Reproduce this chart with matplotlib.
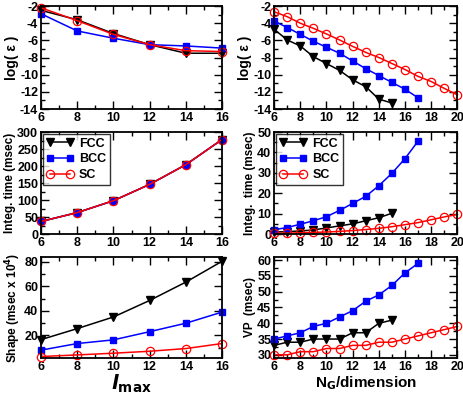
import matplotlib
matplotlib.use("Agg")
import matplotlib.pyplot as plt
from matplotlib.ticker import MultipleLocator

plt.rcParams["font.family"] = ["Liberation Sans", "DejaVu Sans"]
plt.rcParams["font.weight"] = "bold"
plt.rcParams["axes.unicode_minus"] = False

# ---------------------------------------------------------------------------
# Data
# ---------------------------------------------------------------------------
lmax = [6, 8, 10, 12, 14, 16]
ng_sc = list(range(6, 21))
ng_bcc = list(range(6, 18))
ng_fcc = list(range(6, 16))

# log(eps) vs lmax
err_l_fcc = [-2.5, -3.6, -5.2, -6.5, -7.5, -7.5]
err_l_bcc = [-2.9, -4.9, -5.75, -6.5, -6.65, -6.9]
err_l_sc = [-2.2, -3.7, -5.3, -6.5, -7.2, -7.3]

# log(eps) vs N_G
err_n_sc = [-2.66, -3.24, -4.0, -4.6, -5.25, -5.95, -6.7, -7.4, -8.0, -8.7,
            -9.4, -10.2, -10.8, -11.6, -12.35]
err_n_bcc = [-3.75, -4.5, -5.3, -6.1, -6.8, -7.5, -8.4, -9.3, -10.1, -10.9,
             -11.7, -12.7]
err_n_fcc = [-4.7, -5.95, -6.65, -7.9, -8.7, -9.5, -10.6, -11.4, -12.85, -13.3]

# integration time vs lmax
int_l_fcc = [37, 63, 98, 146, 204, 278]
int_l_bcc = [37, 63, 98, 146, 204, 278]
int_l_sc = [37, 63, 98, 146, 204, 278]

# integration time vs N_G
int_n_bcc = [2.1, 3.2, 4.8, 6.5, 8.5, 11.6, 15.0, 18.5, 23.7, 29.8, 37.0, 45.6]
int_n_fcc = [1.0, 1.2, 1.5, 2.0, 3.0, 4.0, 5.0, 6.5, 8.0, 10.2]
int_n_sc = [0.3, 0.4, 0.6, 0.8, 1.0, 1.3, 1.7, 2.2, 2.8, 3.6, 4.6, 5.6, 7.0,
            8.4, 9.6]

# shape cost vs lmax
shape_fcc = [16.5, 25.5, 35, 48.5, 63.5, 80.5]
shape_bcc = [7.9, 13.3, 16.3, 23, 29.9, 39]
shape_sc = [2.7, 4.0, 5.4, 7.0, 9.2, 13.3]

# VP vs N_G
vp_bcc = [35, 36, 37, 39, 40, 42, 44, 47, 49, 52, 56, 59]
vp_fcc = [33, 34, 34, 35, 35, 35, 37, 37, 40, 41]
vp_sc = [30, 30, 31, 31, 32, 32, 33, 33, 34, 34, 35, 36, 37, 38, 39]

# ---------------------------------------------------------------------------
# Styling helpers
# ---------------------------------------------------------------------------
FCC = dict(color="black", marker="v", markersize=5.5, lw=1.1, label="FCC")
BCC = dict(color="#0000ff", marker="s", markersize=5, lw=1.1, label="BCC")
SC = dict(color="#ff0000", marker="o", markersize=6, lw=1.1, mfc="none",
          mew=0.9, label="SC")


def style(ax, xmaj, xmin, ymaj, ymin):
    ax.xaxis.set_major_locator(MultipleLocator(xmaj))
    ax.xaxis.set_minor_locator(MultipleLocator(xmin))
    ax.yaxis.set_major_locator(MultipleLocator(ymaj))
    ax.yaxis.set_minor_locator(MultipleLocator(ymin))
    ax.tick_params(which="both", direction="in", top=True, right=True,
                   labelsize=9, width=1.0, pad=2)
    ax.tick_params(which="major", length=6)
    ax.tick_params(which="minor", length=3)
    for s in ax.spines.values():
        s.set_linewidth(1.3)
    for lab in ax.get_xticklabels() + ax.get_yticklabels():
        lab.set_fontweight("bold")


def add_legend(ax):
    leg = ax.legend(loc="upper left", numpoints=2, fontsize=9, frameon=True,
                    fancybox=False, edgecolor="black", borderpad=0.3,
                    handlelength=2.2, handletextpad=0.4, labelspacing=0.3,
                    borderaxespad=0.15)
    leg.get_frame().set_linewidth(1.0)
    for t in leg.get_texts():
        t.set_fontweight("bold")


fig = plt.figure(figsize=(4.63, 3.96), dpi=100)
lx, lw_ = 0.0886, 0.391
rx, rw = 0.592, 0.396
rows = [(0.7247, 0.260), (0.409, 0.2576), (0.096, 0.255)]

axes = {}
for i, (b, h) in enumerate(rows):
    axes[(i, 0)] = fig.add_axes([lx, b, lw_, h])
    axes[(i, 1)] = fig.add_axes([rx, b, rw, h])

# row 1 left
ax = axes[(0, 0)]
ax.plot(lmax, err_l_fcc, **FCC)
ax.plot(lmax, err_l_bcc, **BCC)
ax.plot(lmax, err_l_sc, **SC)
ax.set_xlim(6, 16); ax.set_ylim(-14, -2)
style(ax, 2, 1, 2, 1)
ax.set_ylabel("log( ε )", fontsize=10, fontweight="bold", labelpad=1)

# row 1 right
ax = axes[(0, 1)]
ax.plot(ng_fcc, err_n_fcc, **FCC)
ax.plot(ng_bcc, err_n_bcc, **BCC)
ax.plot(ng_sc, err_n_sc, **SC)
ax.set_xlim(6, 20); ax.set_ylim(-14, -2)
style(ax, 2, 1, 2, 1)
ax.set_ylabel("log( ε )", fontsize=10, fontweight="bold", labelpad=1)

# row 2 left
ax = axes[(1, 0)]
ax.plot(lmax, int_l_fcc, **FCC)
ax.plot(lmax, int_l_bcc, **BCC)
ax.plot(lmax, int_l_sc, **SC)
ax.set_xlim(6, 16); ax.set_ylim(0, 300)
style(ax, 2, 1, 50, 25)
ax.set_ylabel("Integ. time (msec)", fontsize=8.5, fontweight="bold", labelpad=1)
add_legend(ax)

# row 2 right
ax = axes[(1, 1)]
ax.plot(ng_fcc, int_n_fcc, **FCC)
ax.plot(ng_bcc, int_n_bcc, **BCC)
ax.plot(ng_sc, int_n_sc, **SC)
ax.set_xlim(6, 20); ax.set_ylim(0, 50)
style(ax, 2, 1, 10, 5)
ax.set_ylabel("Integ.  time (msec)", fontsize=8.5, fontweight="bold", labelpad=1)
add_legend(ax)

# row 3 left
ax = axes[(2, 0)]
ax.plot(lmax, shape_fcc, **FCC)
ax.plot(lmax, shape_bcc, **BCC)
ax.plot(lmax, shape_sc, **SC)
ax.set_xlim(6, 16); ax.set_ylim(1.5, 84)
style(ax, 2, 1, 20, 10)
ax.set_ylabel("Shape (msec x 10$^{4}$)", fontsize=8.5, fontweight="bold",
              labelpad=1)
ax.set_xlabel("$\\mathit{l}$$_{\\mathrm{max}}$", fontsize=14, labelpad=0)

# row 3 right
ax = axes[(2, 1)]
ax.plot(ng_fcc, vp_fcc, **FCC)
ax.plot(ng_bcc, vp_bcc, **BCC)
ax.plot(ng_sc, vp_sc, **SC)
ax.set_xlim(6, 20); ax.set_ylim(29, 61)
style(ax, 2, 1, 5, 2.5)
ax.set_ylabel("VP  (msec)", fontsize=8.5, fontweight="bold", labelpad=1)
ax.set_xlabel("N$_\\mathrm{G}$/dimension", fontsize=11, fontweight="bold",
              labelpad=1)

for a in axes.values():
    for ln in a.get_lines():
        ln.set_clip_on(False)

plt.savefig("out.png", dpi=100)
plt.close()
